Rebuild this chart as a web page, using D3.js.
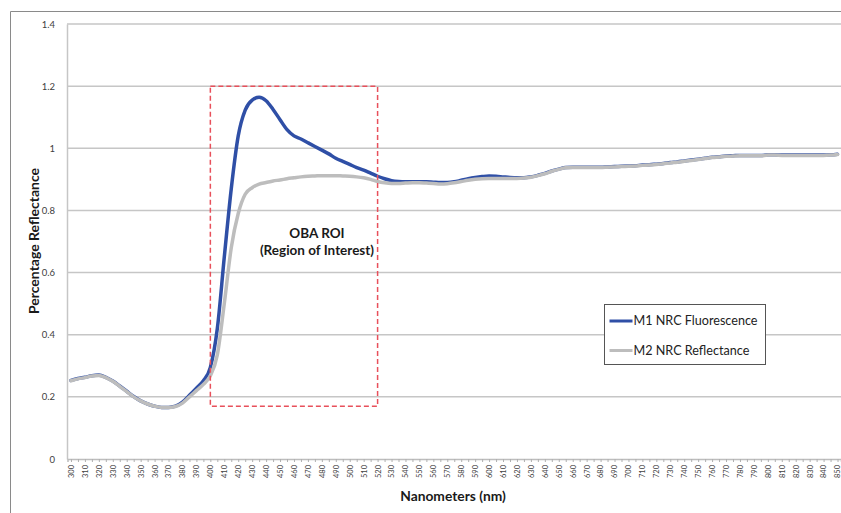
<!DOCTYPE html>
<html>
<head>
<meta charset="utf-8">
<script src="https://cdn.jsdelivr.net/npm/d3@7"></script>
<style>
  html, body { margin: 0; padding: 0; background: #fff; }
  svg { display: block; font-family: Lato, "Open Sans", sans-serif; }
</style>
</head>
<body>
<svg id="chart" width="841" height="513"></svg>
<script>
// Wavelengths sampled every 5 nm, 300–850 nm
const wavelengths = d3.range(300, 851, 5);

// M1: fluorescence-inclusive measurement (UV included)
const m1Fluorescence = [
  0.253, 0.259, 0.263, 0.268, 0.270, 0.263, 0.251, 0.235, 0.218, 0.201,
  0.187, 0.177, 0.170, 0.166, 0.166, 0.170, 0.183, 0.205, 0.228, 0.252,
  0.295, 0.420, 0.650, 0.870, 1.040, 1.123, 1.155, 1.164, 1.153, 1.125,
  1.092, 1.060, 1.040, 1.030, 1.018, 1.006, 0.994, 0.982, 0.968, 0.958,
  0.948, 0.938, 0.930, 0.920, 0.910, 0.902, 0.896, 0.893, 0.892, 0.892,
  0.892, 0.892, 0.891, 0.890, 0.890, 0.892, 0.897, 0.902, 0.906, 0.909,
  0.911, 0.910, 0.908, 0.906, 0.905, 0.905, 0.908, 0.913, 0.919, 0.927,
  0.933, 0.938, 0.939, 0.939, 0.939, 0.939, 0.939, 0.940, 0.941, 0.942,
  0.943, 0.944, 0.946, 0.947, 0.949, 0.951, 0.954, 0.956, 0.959, 0.962,
  0.965, 0.968, 0.971, 0.973, 0.975, 0.976, 0.977, 0.977, 0.977, 0.977,
  0.979, 0.979, 0.978, 0.978, 0.978, 0.978, 0.978, 0.978, 0.978, 0.979,
  0.981
];

// M2: UV-cut reflectance measurement
const m2Reflectance = [
  0.252, 0.258, 0.262, 0.267, 0.269, 0.262, 0.250, 0.234, 0.217, 0.200,
  0.187, 0.177, 0.170, 0.166, 0.166, 0.169, 0.180, 0.200, 0.220, 0.240,
  0.268, 0.335, 0.500, 0.680, 0.790, 0.852, 0.873, 0.885, 0.890, 0.895,
  0.898, 0.902, 0.905, 0.908, 0.910, 0.911, 0.912, 0.912, 0.912, 0.911,
  0.910, 0.908, 0.905, 0.900, 0.893, 0.889, 0.887, 0.887, 0.888, 0.889,
  0.889, 0.888, 0.887, 0.885, 0.886, 0.889, 0.893, 0.897, 0.900, 0.902,
  0.903, 0.903, 0.903, 0.903, 0.903, 0.904, 0.907, 0.912, 0.918, 0.926,
  0.932, 0.937, 0.938, 0.938, 0.938, 0.938, 0.938, 0.939, 0.940, 0.941,
  0.942, 0.943, 0.945, 0.946, 0.948, 0.950, 0.953, 0.955, 0.958, 0.961,
  0.964, 0.967, 0.970, 0.972, 0.974, 0.975, 0.976, 0.976, 0.976, 0.976,
  0.978, 0.978, 0.977, 0.977, 0.977, 0.977, 0.977, 0.977, 0.977, 0.978,
  0.980
];

const seriesNames = ["M1 NRC Fluorescence", "M2 NRC Reflectance"];
const seriesColors = ["#2f4fa6", "#bdbdbd"];
const yTicks = [0, 0.2, 0.4, 0.6, 0.8, 1, 1.2, 1.4];
const roiRange = [400, 520];          // OBA region of interest, nm
const roiLevels = [0.17, 1.2];        // vertical extent of the ROI box
const roiLabel = ["OBA ROI", "(Region of Interest)"];

const svg = d3.select("#chart");

// outer frame (top and left edges visible)
svg.append("path")
  .attr("d", "M10.5,513 V11.5 H841")
  .attr("fill", "none")
  .attr("stroke", "#8a8a8a")
  .attr("stroke-width", 1);

const x = d3.scalePoint()
  .domain(wavelengths)
  .range([67.5, 841])
  .padding(0.5);

const y = d3.scaleLinear()
  .domain([0, 1.4])
  .range([459, 24]);

// horizontal gridlines
svg.append("g")
  .selectAll("line")
  .data(yTicks.filter(d => d > 0))
  .join("line")
  .attr("x1", 67).attr("x2", 841)
  .attr("y1", d => y(d)).attr("y2", d => y(d))
  .attr("stroke", "#c6c6c6")
  .attr("stroke-width", 1.5);

// y axis
const yAxis = svg.append("g")
  .attr("transform", "translate(67,0)")
  .call(d3.axisLeft(y).tickValues(yTicks).tickSize(0).tickPadding(12)
    .tickFormat(d => d === 0 || d === 1 ? String(d) : d3.format(".1f")(d)));
yAxis.select(".domain").attr("stroke", "#c6c6c6").attr("stroke-width", 1.5);
yAxis.selectAll("text").attr("font-size", 9.5).attr("fill", "#404040")
  .attr("font-family", "Lato, sans-serif");

// x axis: a tick per sample, a label every 10 nm
const xAxis = svg.append("g")
  .attr("transform", "translate(0,459)")
  .call(d3.axisBottom(x).tickValues(wavelengths).tickSize(3)
    .tickFormat(d => d % 10 === 0 ? String(d) : ""));
xAxis.select(".domain").attr("stroke", "#bdbdbd").attr("stroke-width", 1.5);
xAxis.selectAll(".tick line").attr("stroke", "#b0b0b0");
xAxis.selectAll("text")
  .attr("font-size", 7.5)
  .attr("fill", "#404040")
  .attr("font-family", "Lato, sans-serif")
  .attr("text-anchor", "end")
  .attr("transform", "rotate(-90)")
  .attr("x", -6)
  .attr("y", 0)
  .attr("dy", "0.32em");

// series lines (reflectance drawn on top where the two coincide)
const line = d3.line()
  .x((d, i) => x(wavelengths[i]))
  .y(d => y(d))
  .curve(d3.curveMonotoneX);

[m1Fluorescence, m2Reflectance].forEach((vals, i) => {
  svg.append("path")
    .datum(vals)
    .attr("fill", "none")
    .attr("stroke", seriesColors[i])
    .attr("stroke-width", 3.5)
    .attr("stroke-linejoin", "round")
    .attr("stroke-linecap", "round")
    .attr("d", line);
});

// region of interest box
svg.append("rect")
  .attr("x", x(roiRange[0]))
  .attr("y", y(roiLevels[1]))
  .attr("width", x(roiRange[1]) - x(roiRange[0]))
  .attr("height", y(roiLevels[0]) - y(roiLevels[1]))
  .attr("fill", "none")
  .attr("stroke", "#e8505b")
  .attr("stroke-width", 1.5)
  .attr("stroke-dasharray", "5,3");

const roiCx = (x(roiRange[0]) + x(roiRange[1])) / 2 + 23;
svg.append("text")
  .attr("x", roiCx).attr("y", 238)
  .attr("text-anchor", "middle")
  .attr("font-size", 13.5).attr("font-weight", "bold").attr("fill", "#1a1a1a")
  .text(roiLabel[0]);
svg.append("text")
  .attr("x", roiCx).attr("y", 255)
  .attr("text-anchor", "middle")
  .attr("font-size", 13.5).attr("font-weight", "bold").attr("fill", "#1a1a1a")
  .text(roiLabel[1]);

// axis titles
svg.append("text")
  .attr("transform", "translate(39,241) rotate(-90)")
  .attr("text-anchor", "middle")
  .attr("font-size", 14).attr("font-weight", "bold").attr("fill", "#1a1a1a")
  .text("Percentage Reflectance");

svg.append("text")
  .attr("x", 453).attr("y", 501)
  .attr("text-anchor", "middle")
  .attr("font-size", 13.8).attr("font-weight", "bold").attr("fill", "#1a1a1a")
  .text("Nanometers (nm)");

// legend
const legend = svg.append("g").attr("transform", "translate(604.5,304.5)");
legend.append("rect")
  .attr("width", 161).attr("height", 60)
  .attr("fill", "#fff")
  .attr("stroke", "#555")
  .attr("stroke-width", 1);
seriesNames.forEach((name, i) => {
  const ly = 16.5 + i * 29.5;
  legend.append("line")
    .attr("x1", 5).attr("x2", 28)
    .attr("y1", ly).attr("y2", ly)
    .attr("stroke", seriesColors[i])
    .attr("stroke-width", 3);
  legend.append("text")
    .attr("x", 29).attr("y", ly)
    .attr("dy", "0.35em")
    .attr("font-size", 12.6).attr("fill", "#222")
    .text(name);
});
</script>
</body>
</html>
